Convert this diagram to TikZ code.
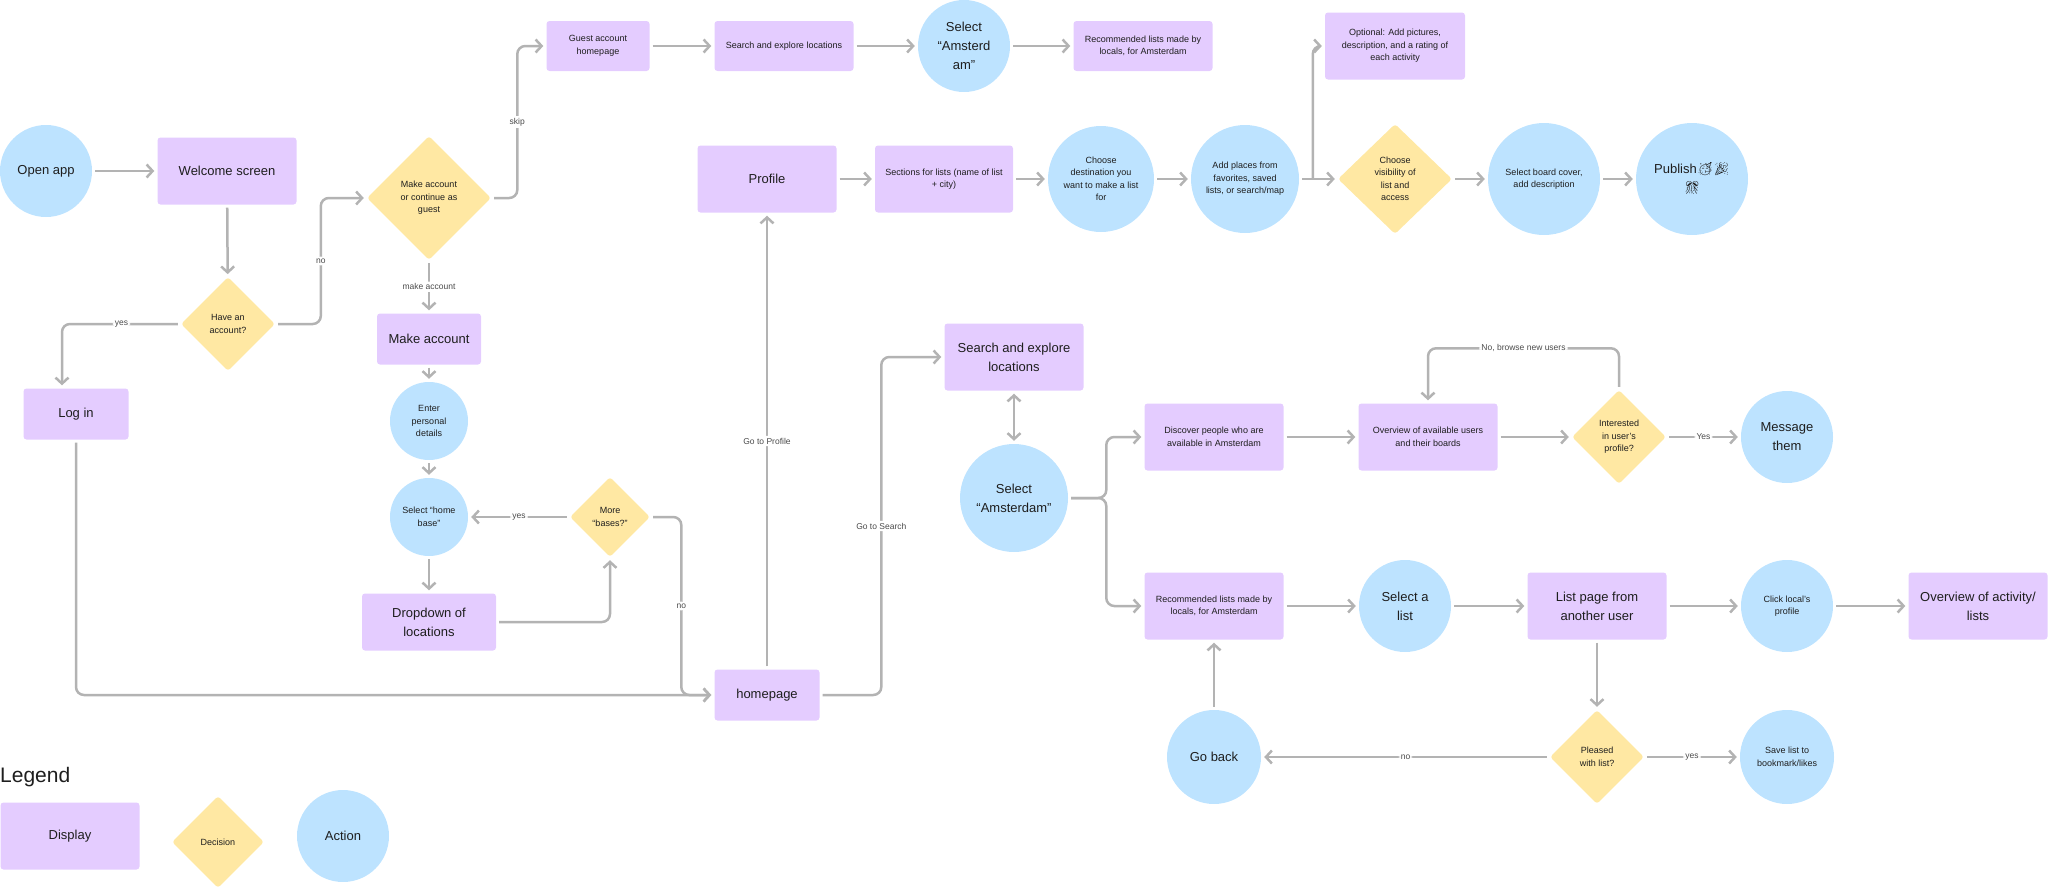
\documentclass[tikz,border=0pt]{standalone}
\usepackage{fontspec}
\setmainfont{Liberation Sans}
\newfontfamily\emojifont{Noto Emoji}
\usetikzlibrary{shapes.geometric,arrows.meta}
\definecolor{dispfill}{HTML}{E4CCFF}
\definecolor{decfill}{HTML}{FFE8A3}
\definecolor{actfill}{HTML}{BDE3FF}
\definecolor{flowgray}{HTML}{B3B3B3}
\definecolor{ink}{HTML}{1E1E1E}
\begin{document}
\begin{tikzpicture}[x=1pt,y=-1pt,
        >={Straight Barb[length=6pt,width=13pt]},
        small/.style={font=\fontsize{9}{12.5}\selectfont},
        big/.style={font=\fontsize{13}{19}\selectfont},
        disp/.style={rectangle,rounded corners=3pt,fill=dispfill,inner sep=0pt,align=center,text=ink},
        dec/.style={diamond,rounded corners=3pt,fill=decfill,inner sep=0pt,align=center,text=ink},
        act/.style={circle,fill=actfill,inner sep=0pt,align=center,text=ink},
        flow/.style={draw=flowgray,line width=2.5pt,->,rounded corners=8pt,shorten >=3pt,shorten <=3pt},
        lbl/.style={fill=white,inner sep=2pt,text=ink!80,font=\fontsize{8.5}{10}\selectfont}]
    \useasboundingbox (0,0) rectangle (2048,889);

    \node[act,big,minimum size=92pt] (open) at (46,171) {Open app};
    \node[disp,big,minimum width=139pt,minimum height=67pt] (welcome) at (227,171) {Welcome screen};
    \node[dec,small,minimum size=94pt] (account) at (228,324) {Have an\\account?};
    \node[dec,small,minimum size=124pt] (guestq) at (429,198) {Make account\\or continue as\\guest};
    \node[disp,small,minimum width=103pt,minimum height=50pt] (guesthome) at (598,46) {Guest account\\homepage};
    \node[disp,small,minimum width=139pt,minimum height=50pt] (searcha) at (784,46) {Search and explore locations};
    \node[act,big,minimum size=92pt] (amsa) at (964,46) {Select\\“Amsterd\\am”};
    \node[disp,small,minimum width=139pt,minimum height=50pt] (recoa) at (1143,46) {Recommended lists made by\\locals, for Amsterdam};
    \node[disp,small,minimum width=140pt,minimum height=67pt] (optional) at (1395,46) {Optional: Add pictures,\\description, and a rating of\\each activity};

    \node[disp,big,minimum width=139pt,minimum height=67pt] (profile) at (767,179) {Profile};
    \node[disp,small,minimum width=138pt,minimum height=67pt] (sections) at (944,179) {Sections for lists (name of list\\+ city)};
    \node[act,small,minimum size=106pt] (dest) at (1101,179) {Choose\\destination you\\want to make a list\\for};
    \node[act,small,minimum size=108pt] (places) at (1245,179) {Add places from\\favorites, saved\\lists, or search/map};
    \node[dec,small,minimum width=114pt,minimum height=110pt] (visib) at (1395,179) {Choose\\visibility of\\list and\\access};
    \node[act,small,minimum size=112pt] (cover) at (1544,179) {Select board cover,\\add description};
    \node[act,big,minimum size=112pt] (publish) at (1692,179) {Publish{\emojifont 🥳🎉}\\{\emojifont 🎊}};

    \node[disp,big,minimum width=105pt,minimum height=51pt] (login) at (76,414) {Log in};
    \node[disp,big,minimum width=104pt,minimum height=51pt] (makeacc) at (429,339) {Make account};
    \node[act,small,minimum size=78pt] (details) at (429,421) {Enter\\personal\\details};
    \node[act,small,minimum size=78pt] (homebase) at (429,517) {Select “home\\base”};
    \node[dec,small,minimum size=80pt] (morebases) at (610,517) {More\\“bases?”};
    \node[disp,big,minimum width=134pt,minimum height=57pt] (dropdown) at (429,622) {Dropdown of\\locations};
    \node[disp,big,minimum width=105pt,minimum height=51pt] (homepage) at (767,695) {homepage};

    \node[disp,big,minimum width=139pt,minimum height=67pt] (searchb) at (1014,357) {Search and explore\\locations};
    \node[act,big,minimum size=108pt] (amsb) at (1014,498) {Select\\“Amsterdam”};
    \node[disp,small,minimum width=139pt,minimum height=67pt] (discover) at (1214,437) {Discover people who are\\available in Amsterdam};
    \node[disp,small,minimum width=139pt,minimum height=67pt] (recob) at (1214,606) {Recommended lists made by\\locals, for Amsterdam};
    \node[disp,small,minimum width=139pt,minimum height=67pt] (users) at (1428,437) {Overview of available users\\and their boards};
    \node[dec,small,minimum size=94pt] (interest) at (1619,437) {Interested\\in user’s\\profile?};
    \node[act,big,minimum size=92pt] (message) at (1787,437) {Message\\them};
    \node[act,big,minimum size=92pt] (selectlist) at (1405,606) {Select a\\list};
    \node[disp,big,minimum width=139pt,minimum height=67pt] (listpage) at (1597,606) {List page from\\another user};
    \node[act,small,minimum size=92pt] (localprof) at (1787,606) {Click local’s\\profile};
    \node[disp,big,minimum width=139pt,minimum height=67pt] (activity) at (1978,606) {Overview of activity/\\lists};
    \node[act,big,minimum size=94pt] (goback) at (1214,757) {Go back};
    \node[dec,small,minimum size=94pt] (pleased) at (1597,757) {Pleased\\with list?};
    \node[act,small,minimum size=94pt] (savelist) at (1787,757) {Save list to\\bookmark/likes};

    \node[anchor=base west,inner sep=0pt,text=ink,font=\fontsize{21}{25}\selectfont] (legend) at (0,782) {Legend};
    \node[disp,big,minimum width=139pt,minimum height=67pt] (legdisp) at (70,836) {Display};
    \node[dec,small,minimum size=92pt] (legdec) at (218,842) {Decision};
    \node[act,big,minimum size=92pt] (legact) at (343,836) {Action};

    \draw[flow] (open) -- (welcome);
    \draw[flow] (welcome) -- (account);
    \draw[flow] (account.west) -| ([xshift=-14pt]login.north) node[lbl,pos=0.25] (lyesa) {yes};
    \draw[flow] (account.east) -| ([xshift=-46pt]guestq.west) node[lbl,pos=0.75] (lnoa) {no} -- (guestq.west);
    \draw[flow] (guestq.east) -| ([xshift=-29pt]guesthome.west) node[lbl,pos=0.75] (lskip) {skip} -- (guesthome.west);
    \draw[flow] (guestq) -- node[lbl] (lmake) {make account} (makeacc);
    \draw[flow] (guesthome) -- (searcha);
    \draw[flow] (searcha) -- (amsa);
    \draw[flow] (amsa) -- (recoa);
    \draw[flow] (makeacc) -- (details);
    \draw[flow] (details) -- (homebase);
    \draw[flow] (homebase) -- (dropdown);
    \draw[flow] (dropdown.east) -| (morebases.south);
    \draw[flow] (morebases) -- node[lbl] (lyesb) {yes} (homebase);
    \draw[flow] (morebases.east) -| ([xshift=-33pt]homepage.west) node[lbl,pos=0.75] (lnob) {no} -- (homepage.west);
    \draw[flow] (login.south) |- (homepage.west);
    \draw[flow] (homepage) -- node[lbl] (lprofile) {Go to Profile} (profile);
    \draw[flow] (homepage.east) -| ([xshift=-63pt]searchb.west) node[lbl,pos=0.75] (lsearch) {Go to Search} -- (searchb.west);

    \draw[flow] (profile) -- (sections);
    \draw[flow] (sections) -- (dest);
    \draw[flow] (dest) -- (places);
    \draw[flow] (places) -- (visib);
    \coordinate (split) at ([xshift=-25pt]visib.west);
    \draw[flow,shorten <=0pt] (split) |- (optional.west);
    \draw[flow] (visib) -- (cover);
    \draw[flow] (cover) -- (publish);

    \draw[flow,<->] (searchb) -- (amsb);
    \draw[flow] (amsb.east) -| ([xshift=-38pt]discover.west) -- (discover.west);
    \draw[flow] (amsb.east) -| ([xshift=-38pt]recob.west) -- (recob.west);
    \draw[flow] (discover) -- (users);
    \draw[flow] (users) -- (interest);
    \draw[flow] (interest) -- node[lbl] (lyesc) {Yes} (message);
    \draw[flow] (interest.north) |- ([yshift=55pt]users.north) node[lbl,pos=0.75] (lbrowse) {No, browse new users} -- (users.north);
    \draw[flow] (recob) -- (selectlist);
    \draw[flow] (selectlist) -- (listpage);
    \draw[flow] (listpage) -- (localprof);
    \draw[flow] (localprof) -- (activity);
    \draw[flow] (listpage) -- (pleased);
    \draw[flow] (pleased) -- node[lbl] (lnoc) {no} (goback);
    \draw[flow] (pleased) -- node[lbl] (lyesd) {yes} (savelist);
    \draw[flow] (goback) -- (recob);
\end{tikzpicture}
\end{document}
